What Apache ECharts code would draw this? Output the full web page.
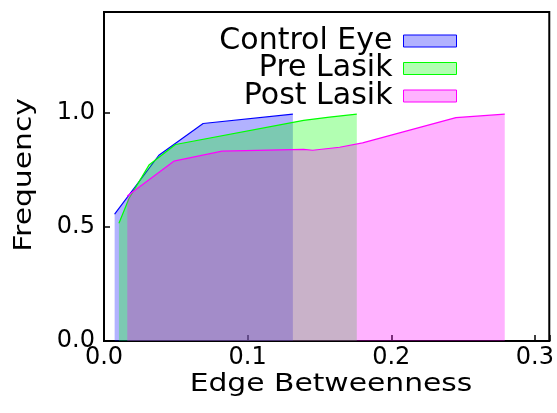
<!DOCTYPE html>
<html>
<head>
<meta charset="utf-8">
<script src="https://cdn.jsdelivr.net/npm/echarts@6/dist/echarts.min.js"></script>
<style>
html,body{margin:0;padding:0;background:#fff;}
#chart{width:557px;height:413px;}
</style>
</head>
<body>
<div id="chart"></div>
<script>
// ---- data ----
const seriesNames = ['Control Eye', 'Pre Lasik', 'Post Lasik'];
const controlX = [0.0074, 0.0382, 0.069, 0.1315];
const controlY = [0.555, 0.813, 0.952, 0.993];
const preX = [0.0104, 0.0174, 0.0313, 0.0498, 0.139, 0.157, 0.176];
const preY = [0.515, 0.624, 0.770, 0.860, 0.966, 0.980, 0.993];
const postX = [0.0162, 0.0486, 0.0822, 0.139, 0.1453, 0.164, 0.180, 0.245, 0.279];
const postY = [0.635, 0.787, 0.831, 0.839, 0.835, 0.848, 0.867, 0.978, 0.993];
const xTicks = [0.0, 0.1, 0.2, 0.3];
const yTicks = [0.0, 0.5, 1.0];
const xTitle = 'Edge Betweenness';
const yTitle = 'Frequency';

function pairs(xs, ys) { return xs.map((x, i) => [x, ys[i]]); }

const colors = ['#0000ff', '#00ff00', '#ff00ff'];
const fills = ['rgba(0,0,255,0.3)', 'rgba(0,255,0,0.3)', 'rgba(255,0,255,0.3)'];
const dataSets = [pairs(controlX, controlY), pairs(preX, preY), pairs(postX, postY)];

function isTick(v, ticks) { return ticks.some(t => Math.abs(t - v) < 1e-9); }

const FONT = 'DejaVu Sans';
const chart = echarts.init(document.getElementById('chart'), null, {renderer: 'canvas'});
chart.setOption({
  animation: false,
  backgroundColor: '#fff',
  grid: {left: 104, right: 4, top: 12, bottom: 72, show: true, borderColor: '#000', borderWidth: 2, backgroundColor: 'transparent'},
  legend: {
    orient: 'vertical', align: 'right', right: 95, top: 19,
    icon: 'rect', itemWidth: 53, itemHeight: 12, itemGap: -6.5,
    textStyle: {fontFamily: FONT, fontSize: 30, color: '#000', lineHeight: 22, padding: [0, 6, 12, 0]},
    data: seriesNames.map((n, i) => ({name: n, itemStyle: {color: fills[i], borderColor: colors[i], borderWidth: 1}}))
  },
  graphic: [
    {type: 'text', x: 331, y: 385, scaleX: 1.24, silent: true,
     style: {text: xTitle, font: '24px "DejaVu Sans"', fill: '#000', align: 'center', verticalAlign: 'middle', textAlign: 'center', textVerticalAlign: 'middle'}},
    {type: 'text', x: 24, y: 175, rotation: Math.PI / 2, scaleX: 1.19, silent: true,
     style: {text: yTitle, font: '25px "DejaVu Sans"', fill: '#000', align: 'center', verticalAlign: 'middle', textAlign: 'center', textVerticalAlign: 'middle'}}
  ],
  xAxis: {
    type: 'value', min: 0, max: 0.31, interval: 0.1,
    axisLine: {show: true, lineStyle: {color: '#000', width: 2}},
    axisTick: {show: true, inside: true, length: 6, lineStyle: {color: '#000', width: 1.5}},
    axisLabel: {fontFamily: FONT, fontSize: 24, color: '#000', margin: 5,
      formatter: v => isTick(v, xTicks) ? v.toFixed(1) : ''},
    splitLine: {show: false}
  },
  yAxis: {
    type: 'value', min: 0, max: 1.44, interval: 0.5,
    axisLine: {show: true, lineStyle: {color: '#000', width: 2}},
    axisTick: {show: true, inside: true, length: 6, lineStyle: {color: '#000', width: 1.5}},
    axisLabel: {fontFamily: FONT, fontSize: 24, color: '#000', margin: 9,
      formatter: v => isTick(v, yTicks) ? v.toFixed(1) : ''},
    splitLine: {show: false}
  },
  series: seriesNames.map((n, i) => ({
    name: n, type: 'line', data: dataSets[i], showSymbol: false, symbol: 'none',
    lineStyle: {color: colors[i], width: 1.2},
    itemStyle: {color: colors[i]},
    areaStyle: {color: fills[i], opacity: 1, origin: 'start'},
    z: 2 + i
  }))
});
</script>
</body>
</html>
